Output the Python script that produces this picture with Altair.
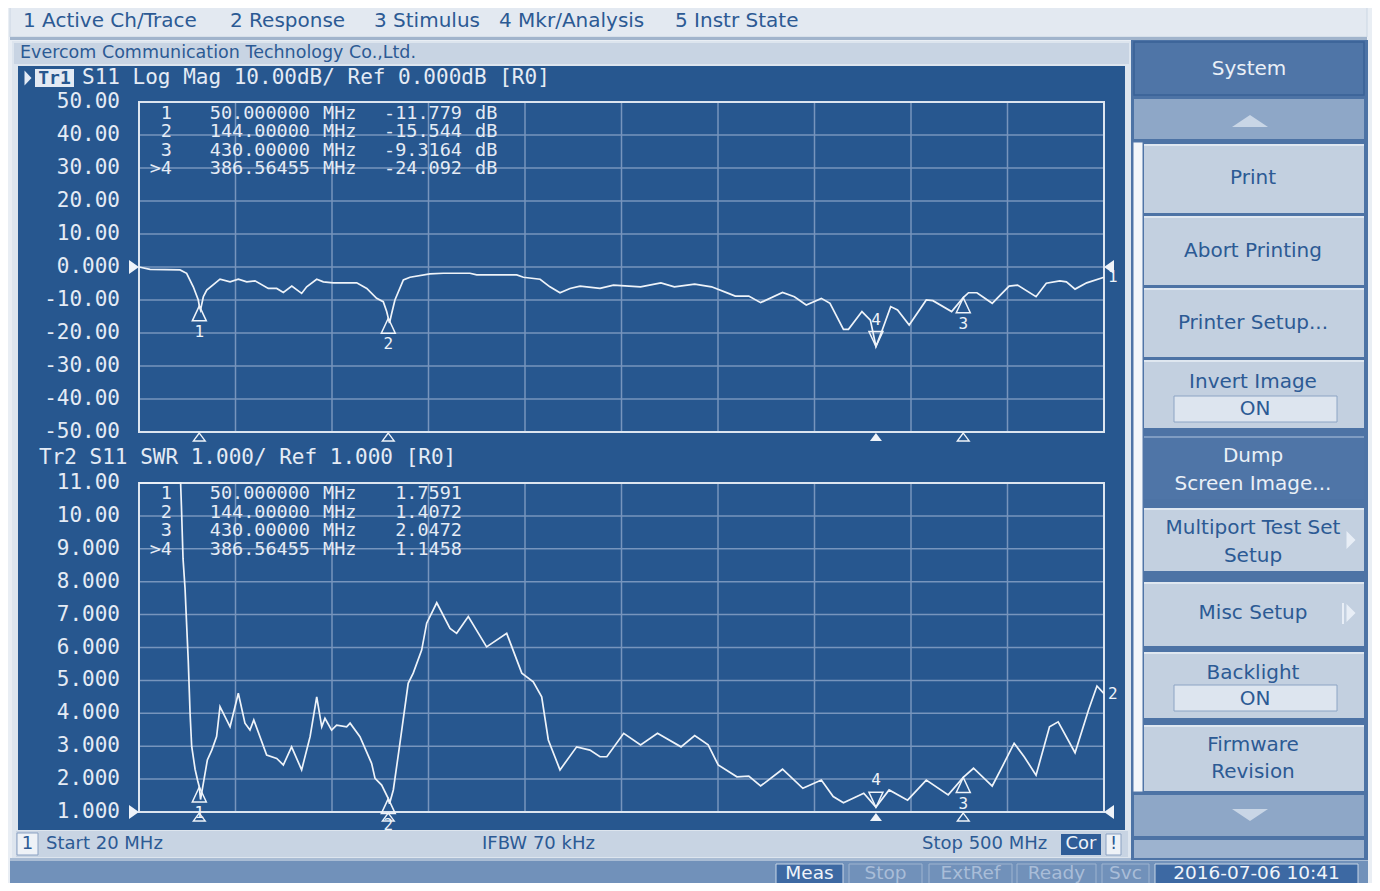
import altair as alt
import pandas as pd

# ------------------------------------------------------------------ data
TOP_FREQ = [20.0, 25.5, 40.4, 43.7, 47.0, 49.5, 50.0, 50.6, 52.0, 53.7, 60.3, 65.3, 69.4, 73.6,
            77.7, 84.3, 88.5, 91.8, 96.0, 100.9, 103.4, 108.4, 111.7, 116.6, 128.3, 133.3, 138.2,
            141.5, 143.2, 144.0, 144.6, 145.7, 147.3, 151.5, 154.8, 164.7, 171.4, 184.6, 188.0,
            207.9, 211.2, 219.5, 224.4, 229.4, 234.4, 239.4, 249.3, 256.0, 269.5, 279.6, 286.3,
            296.4, 304.8, 313.2, 316.6, 323.3, 329.2, 340.1, 346.0, 351.9, 359.4, 363.7, 370.4,
            372.9, 379.6, 383.8, 386.56, 389.7, 393.9, 397.3, 403.1, 411.6, 414.9, 424.2, 430.0,
            432.6, 436.8, 444.4, 452.8, 457.0, 466.2, 471.3, 478.0, 481.3, 485.6, 491.4, 500.0]
TOP_DB = [0.0, -0.7, -0.9, -1.9, -6.0, -10.0, -11.8, -13.0, -9.0, -7.0, -3.7, -4.5, -3.7, -4.5,
          -4.2, -6.5, -6.5, -7.7, -5.8, -8.0, -6.0, -3.7, -4.5, -4.8, -4.8, -6.5, -9.5,
          -10.5, -13.5, -15.5, -17.0, -14.0, -10.0, -3.9, -3.1, -2.1, -1.9, -1.9, -2.4,
          -2.4, -3.1, -3.7, -6.0, -7.8, -6.5, -5.8, -6.5, -5.5, -6.0, -4.8, -6.0,
          -5.2, -6.0, -8.0, -8.8, -8.8, -10.8, -7.7, -9.0, -11.5, -9.5, -11.0, -18.9,
          -18.9, -13.5, -16.1, -24.1, -19.1, -12.0, -13.0, -17.6, -10.0, -10.2, -13.5, -9.3,
          -7.8, -7.8, -11.0, -5.8, -5.5, -9.0, -4.9, -4.2, -4.5, -6.7, -4.8, -3.1]

BOT_FREQ = [20.0, 30.0, 38.0, 40.7, 41.1, 41.9, 42.9, 43.4, 44.5, 45.4, 46.2, 47.9, 49.2, 50.0,
            50.6, 52.0, 54.0, 56.2, 58.6, 60.3, 65.3, 69.4, 72.7, 75.2, 77.1, 83.5, 88.5, 91.8,
            95.9, 100.9, 105.1, 108.4, 110.9, 112.5, 115.8, 118.3, 123.3, 125.0, 129.9, 135.7,
            137.4, 140.7, 144.0, 144.6, 146.5, 149.8, 152.3, 153.9, 156.4, 160.6, 163.1, 168.1,
            174.7, 178.0, 183.8, 192.9, 202.9, 210.4, 216.1, 220.3, 223.6, 229.4, 237.7, 244.3,
            249.3, 252.7, 261.1, 269.5, 277.9, 289.6, 296.4, 303.1, 308.1, 317.4, 323.3, 329.2,
            340.1, 350.2, 359.4, 365.3, 370.4, 380.5, 386.56, 393.1, 402.3, 411.6, 422.5, 430.0,
            435.1, 444.4, 449.4, 455.3, 460.3, 466.2, 472.9, 477.2, 485.6, 492.3, 496.5, 500.0]
BOT_SWR = [40.0, 25.0, 15.0, 11.0, 10.3, 8.7, 7.8, 7.1, 5.6, 4.0, 3.0, 2.3, 1.95, 1.76,
           1.38, 1.87, 2.58, 2.88, 3.29, 4.20, 3.59, 4.61, 3.70, 3.49, 3.80, 2.73, 2.63, 2.43,
           2.98, 2.28, 3.29, 4.50, 3.59, 3.85, 3.49, 3.64, 3.59, 3.70, 3.29, 2.48,
           2.02, 1.82, 1.41, 1.25, 1.67, 3.09, 4.20, 4.91, 5.22, 5.92, 6.74, 7.36,
           6.58, 6.43, 6.94, 6.02, 6.43, 5.22, 4.96, 4.50, 3.19, 2.28, 2.98, 2.88,
           2.68, 2.68, 3.39, 3.04, 3.39, 2.98, 3.32, 3.04, 2.43, 2.07, 2.09, 1.79,
           2.30, 1.72, 1.97, 1.47, 1.28, 1.57, 1.15, 1.67, 1.36, 1.97, 1.52, 2.05,
           2.33, 1.79, 2.38, 3.09, 2.68, 2.12, 3.59, 3.74, 2.80, 4.10, 4.83, 4.60]

FREQ_GRID = [68, 116, 164, 212, 260, 308, 356, 404, 452]
DB_TICKS = [50, 40, 30, 20, 10, 0, -10, -20, -30, -40, -50]
DB_TICK_LABELS = ["50.00", "40.00", "30.00", "20.00", "10.00", "0.000",
                  "-10.00", "-20.00", "-30.00", "-40.00", "-50.00"]
SWR_TICKS = [11, 10, 9, 8, 7, 6, 5, 4, 3, 2, 1]
SWR_TICK_LABELS = ["11.00", "10.00", "9.000", "8.000", "7.000", "6.000",
                   "5.000", "4.000", "3.000", "2.000", "1.000"]

MARKER_NUM = ["1", "2", "3", "4"]
MARKER_TAG = ["1", "2", "3", ">4"]
MARKER_ACTIVE = [False, False, False, True]
MARKER_FREQ = [50.0, 144.0, 430.0, 386.56455]
MARKER_FREQ_TXT = ["50.000000", "144.00000", "430.00000", "386.56455"]
MARKER_DB = [-11.779, -15.544, -9.3164, -24.092]
MARKER_DB_TXT = ["-11.779", "-15.544", "-9.3164", "-24.092"]
MARKER_SWR = [1.7591, 1.4072, 2.0472, 1.1458]
MARKER_SWR_TXT = ["1.7591", "1.4072", "2.0472", "1.1458"]
FREQ_UNIT = "MHz"
DB_UNIT = "dB"

MENU_ITEMS = ["1 Active Ch/Trace", "2 Response", "3 Stimulus", "4 Mkr/Analysis", "5 Instr State"]
COMPANY = "Evercom Communication Technology Co.,Ltd."
TR1_NAME = "Tr1"
TR1_HEADER = "S11 Log Mag 10.00dB/ Ref 0.000dB [R0]"
TR2_HEADER = "Tr2 S11 SWR 1.000/ Ref 1.000 [R0]"
TRACE_END_LABELS = ["1", "2"]
FOOTER_CH = "1"
FOOTER_START = "Start 20 MHz"
FOOTER_IFBW = "IFBW 70 kHz"
FOOTER_STOP = "Stop 500 MHz"
FOOTER_COR = "Cor"
FOOTER_WARN = "!"
STATUS_ITEMS = ["Meas", "Stop", "ExtRef", "Ready", "Svc", "2016-07-06 10:41"]
SOFTKEY_TITLE = "System"
SOFTKEYS = ["Print", "Abort Printing", "Printer Setup...", "Invert Image",
            "Dump\nScreen Image...", "Multiport Test Set\nSetup", "Misc Setup",
            "Backlight", "Firmware\nRevision"]
TOGGLE_STATE = "ON"

# ------------------------------------------------------------------ layout / style
OFF = 8
PX0, PX1 = 139, 1104
T_TOP, T_BOT = 102, 432
B_TOP, B_BOT = 483, 812

PAGE_BG = "#e9eef4"
MENU_BG = "#e3e9f1"
MENU_INK = "#2c5a94"
FRAME = "#dde5ee"
STRIP_BG = "#c8d4e3"
PANEL = "#27578f"
GRID = "#7795bd"
BORDER = "#dce5f0"
TRACE = "#eef3f9"
INK_DARK = "#e4ebf5"
KEY_LIGHT = "#c3d0e0"
KEY_DARK = "#4f75a7"
KEY_MID = "#8ea7c7"
KEY_INK = "#2c5a94"
COLUMN_BG = "#4d73a5"
STATUS_BG = "#7191ba"

MONO = "DejaVu Sans Mono"
SANS = "DejaVu Sans"
RO_SIZE = 18.5

UP_TIP = "M0,0L-1.4,3L1.4,3Z"
DOWN_TIP = "M0,0L-1.4,-3L1.4,-3Z"
SMALL_UP = "M0,0L-1.5,2L1.5,2Z"
RIGHT_TIP = "M0,0L-2,-1.4L-2,1.4Z"
LEFT_TIP = "M0,0L2,-1.4L2,1.4Z"
HDR_TRI = "M0.7,0L-0.7,-1.5L-0.7,1.5Z"
KEY_UP = "M-1.5,0.5L0,-0.5L1.5,0.5Z"
KEY_DOWN = "M-1.5,-0.5L0,0.5L1.5,-0.5Z"
KEY_SIDE = "M-0.5,-1L0.5,0L-0.5,1Z"

ONE = alt.Data(values=[{"k": 0}])

XS = alt.Scale(domain=[20, 500], range=[PX0 - OFF, PX1 - OFF], nice=False, zero=False)
YT = alt.Scale(domain=[-50, 50], range=[T_BOT - OFF, T_TOP - OFF], nice=False, zero=False)
YB = alt.Scale(domain=[1, 11], range=[B_BOT - OFF, B_TOP - OFF], nice=False, zero=False, clamp=True)


def box(x0, y0, x1, y1, fill=None, stroke=None, sw=1.0):
    props = {}
    if fill is None:
        props["filled"] = False
    else:
        props["fill"] = fill
    if stroke is not None:
        props["stroke"] = stroke
        props["strokeWidth"] = sw
    return alt.Chart(ONE).mark_rect(**props).encode(
        x=alt.value(x0 - OFF), x2=alt.value(x1 - OFF),
        y=alt.value(y0 - OFF), y2=alt.value(y1 - OFF))


def txt(x, y, s, size=20, color=KEY_INK, font=SANS, align="left", weight="normal"):
    return alt.Chart(ONE).mark_text(align=align, baseline="middle", fontSize=size, font=font,
                                    color=color, fontWeight=weight).encode(
        x=alt.value(x - OFF), y=alt.value(y - OFF), text=alt.value(s))


def glyph(x, y, path, size, color, filled=True, sw=1.0):
    return alt.Chart(ONE).mark_point(shape=path, size=size, filled=filled, color=color,
                                     opacity=1, strokeWidth=sw).encode(
        x=alt.value(x - OFF), y=alt.value(y - OFF))


def panel_base(ticks, tick_labels, ys, top, bot):
    X = alt.X("f:Q", scale=XS, axis=None)
    Y = alt.Y("v:Q", scale=ys, axis=None)
    return [
        alt.Chart(pd.DataFrame({"f": FREQ_GRID})).mark_rule(color=GRID, strokeWidth=1.5).encode(
            x=X, y=alt.value(top - OFF), y2=alt.value(bot - OFF)),
        alt.Chart(pd.DataFrame({"v": ticks[1:-1]})).mark_rule(color=GRID, strokeWidth=1.5).encode(
            y=Y, x=alt.value(PX0 - OFF), x2=alt.value(PX1 - OFF)),
        box(PX0, top, PX1, bot, None, BORDER, 2),
        alt.Chart(pd.DataFrame({"v": ticks, "lab": tick_labels})).mark_text(
            align="right", baseline="middle", font=MONO, fontSize=21, color=INK_DARK).encode(
            x=alt.value(120 - OFF), y=Y, text="lab:N"),
    ]


def panel_trace(trace_f, trace_v, mvals, ys, bot, ref_v, end_label):
    X = alt.X("f:Q", scale=XS, axis=None)
    Y = alt.Y("v:Q", scale=ys, axis=None)
    mk = pd.DataFrame({"f": MARKER_FREQ, "v": mvals, "num": MARKER_NUM, "act": MARKER_ACTIVE})
    passive = mk[~mk["act"]].drop(columns="act")
    active = mk[mk["act"]].drop(columns="act")
    ref = pd.DataFrame({"v": [ref_v]})
    end = pd.DataFrame({"f": [trace_f[-1]], "v": [trace_v[-1]], "t": [end_label]})
    return [
        alt.Chart(pd.DataFrame({"f": trace_f, "v": trace_v})).mark_line(
            color=TRACE, strokeWidth=1.7).encode(x=X, y=Y),
        alt.Chart(passive).mark_point(shape=UP_TIP, size=100, filled=False, color=TRACE,
                                      strokeWidth=1.5, opacity=1).encode(x=X, y=Y),
        alt.Chart(active).mark_point(shape=DOWN_TIP, size=100, filled=False, color=TRACE,
                                     strokeWidth=1.5, opacity=1).encode(x=X, y=Y),
        alt.Chart(passive).mark_text(dy=26, font=MONO, fontSize=16, color=TRACE,
                                     baseline="middle").encode(x=X, y=Y, text="num:N"),
        alt.Chart(active).mark_text(dy=-27, font=MONO, fontSize=16, color=TRACE,
                                    baseline="middle").encode(x=X, y=Y, text="num:N"),
        alt.Chart(passive).mark_point(shape=SMALL_UP, size=64, filled=False, color=TRACE,
                                      strokeWidth=1.3, opacity=1).encode(
            x=X, y=alt.value(bot + 1 - OFF)),
        alt.Chart(active).mark_point(shape=SMALL_UP, size=64, filled=True, color=TRACE,
                                     opacity=1).encode(x=X, y=alt.value(bot + 1 - OFF)),
        alt.Chart(ref).mark_point(shape=RIGHT_TIP, size=100, filled=True, color=TRACE,
                                  opacity=1).encode(x=alt.value(PX0 - OFF), y=Y),
        alt.Chart(ref).mark_point(shape=LEFT_TIP, size=100, filled=True, color=TRACE,
                                  opacity=1).encode(x=alt.value(PX1 - OFF), y=Y),
        alt.Chart(end).mark_text(align="left", dx=4, font=MONO, fontSize=16, color=TRACE,
                                 baseline="middle").encode(x=X, y=Y, text="t:N"),
    ]


layers = []

# ---------------- top menu bar
layers += [box(10, 1, 1367, 37, MENU_BG, "#cbd6e3", 1), box(10, 37, 1367, 40, "#a1b4cc")]
for s, x in zip(MENU_ITEMS, [23, 230, 374, 499, 675]):
    layers.append(txt(x, 21, s, size=20, color=MENU_INK))

# ---------------- display frame
layers += [box(12, 41, 1131, 860, FRAME), box(14, 43, 1129, 64, STRIP_BG),
           txt(20, 53, COMPANY, size=17.5, color=MENU_INK),
           box(18, 66, 1125, 830, PANEL)]

# headers
layers += [glyph(28, 78, HDR_TRI, 100, INK_DARK),
           box(35, 69, 74, 87, "#e3eaf4"),
           txt(54.5, 78.5, TR1_NAME, size=18, color=PANEL, font=MONO, align="center", weight="bold"),
           txt(82, 78, TR1_HEADER, size=21, font=MONO, color=INK_DARK),
           txt(39, 458, TR2_HEADER, size=21, font=MONO, color=INK_DARK)]

# grids, borders, tick labels
layers += panel_base(DB_TICKS, DB_TICK_LABELS, YT, T_TOP, T_BOT)
layers += panel_base(SWR_TICKS, SWR_TICK_LABELS, YB, B_TOP, B_BOT)

# marker readouts
for i, y in enumerate([112.5, 131, 149.5, 168]):
    layers += [txt(172, y, MARKER_TAG[i], RO_SIZE, INK_DARK, MONO, "right"),
               txt(310, y, MARKER_FREQ_TXT[i], RO_SIZE, INK_DARK, MONO, "right"),
               txt(323, y, FREQ_UNIT, RO_SIZE, INK_DARK, MONO),
               txt(462, y, MARKER_DB_TXT[i], RO_SIZE, INK_DARK, MONO, "right"),
               txt(475, y, DB_UNIT, RO_SIZE, INK_DARK, MONO)]
for i, y in enumerate([493, 511.5, 530, 548.5]):
    layers += [txt(172, y, MARKER_TAG[i], RO_SIZE, INK_DARK, MONO, "right"),
               txt(310, y, MARKER_FREQ_TXT[i], RO_SIZE, INK_DARK, MONO, "right"),
               txt(323, y, FREQ_UNIT, RO_SIZE, INK_DARK, MONO),
               txt(462, y, MARKER_SWR_TXT[i], RO_SIZE, INK_DARK, MONO, "right")]

# traces and markers
layers += panel_trace(TOP_FREQ, TOP_DB, MARKER_DB, YT, T_BOT, 0, TRACE_END_LABELS[0])
layers += panel_trace(BOT_FREQ, BOT_SWR, MARKER_SWR, YB, B_BOT, 1, TRACE_END_LABELS[1])

# ---------------- footer strip
layers += [box(16, 831, 1128, 857, STRIP_BG),
           box(17, 833, 38, 855, "#eef2f7", "#8aa1c2", 1),
           txt(27.5, 844, FOOTER_CH, 18, KEY_INK, SANS, "center"),
           txt(46, 844, FOOTER_START, 18, KEY_INK),
           txt(482, 844, FOOTER_IFBW, 18, KEY_INK),
           txt(922, 844, FOOTER_STOP, 18, KEY_INK),
           box(1061, 834, 1101, 855, "#2f5d98"),
           txt(1081, 844, FOOTER_COR, 18, "#eef3f9", SANS, "center"),
           box(1106, 834, 1121, 855, "#eef2f7", "#8aa1c2", 1),
           txt(1113.5, 844, FOOTER_WARN, 18, KEY_INK, SANS, "center")]

# ---------------- status bar (the page only shows down to y = 883)
layers += [box(10, 858, 1368, 861, "#a9bcd4"), box(10, 861, 1368, 891, STATUS_BG)]
status_geom = [(776, 843, True), (849, 922, False), (929, 1012, False),
               (1017, 1096, False), (1102, 1149, False), (1155, 1358, True)]
for s, (x0, x1, on) in zip(STATUS_ITEMS, status_geom):
    if on:
        layers += [box(x0, 864, x1, 890, "#3d69a3", "#c9d6e6", 1),
                   txt((x0 + x1) / 2, 873, s, 18.5, "#f0f4fa", SANS, "center")]
    else:
        layers += [box(x0, 864, x1, 890, STATUS_BG, "#9fb4d0", 1),
                   txt((x0 + x1) / 2, 873, s, 18.5, "#a9bdd8", SANS, "center")]

# ---------------- softkey column
layers += [box(1131, 40, 1368, 860, COLUMN_BG),
           box(1134, 42, 1364, 95, KEY_DARK, "#3a6197", 1.5),
           txt(1249, 69, SOFTKEY_TITLE, 20, "#eaf0f7", SANS, "center"),
           box(1134, 99, 1364, 139, KEY_MID),
           glyph(1250, 121, KEY_UP, 576, "#c9d6e6"),
           box(1133, 142, 1143, 792, "#f3f6fa", "#5479aa", 1)]
key_geom = [(144, 213, False, [178]), (216, 285, False, [251]), (288, 357, False, [323]),
            (360, 428, False, [382]), (436, 499, True, [456, 484]), (508, 571, False, [528, 556]),
            (582, 646, False, [613]), (652, 718, False, [673]), (725, 791, False, [745, 772])]
for label, (y0, y1, dark, ys) in zip(SOFTKEYS, key_geom):
    layers.append(box(1144, y0, 1364, y1, KEY_DARK if dark else KEY_LIGHT))
    layers.append(box(1144, y0, 1364, y0 + 2, "#7f9cc2" if dark else "#dfe7f0"))
    ink = "#eaf0f7" if dark else KEY_INK
    for line, yy in zip(label.split("\n"), ys):
        layers.append(txt(1253, yy, line, 20, ink, SANS, "center"))
for (y_box, y_on) in [(396, 409), (685, 699)]:
    layers += [box(1174, y_box, 1337, y_box + 26, "#dde5ef", "#8ca4c4", 1),
               txt(1255, y_on, TOGGLE_STATE, 20, KEY_INK, SANS, "center")]
layers += [glyph(1351, 540, KEY_SIDE, 324, "#e8eef6"),
           glyph(1351, 613, KEY_SIDE, 324, "#e8eef6"),
           box(1342, 603, 1344, 624, "#e8eef6"),
           box(1134, 795, 1364, 836, KEY_MID),
           glyph(1250, 815, KEY_DOWN, 576, "#c9d6e6"),
           box(1134, 840, 1364, 858, "#9db3cf")]

chart = alt.layer(*layers).resolve_scale(y="independent").properties(
    width=1364, height=875, padding=0,
    autosize=alt.AutoSizeParams(type="none"),
    background=PAGE_BG,
).configure_view(strokeWidth=0)

chart.save("out.html", embed_options={"renderer": "svg", "actions": False})
